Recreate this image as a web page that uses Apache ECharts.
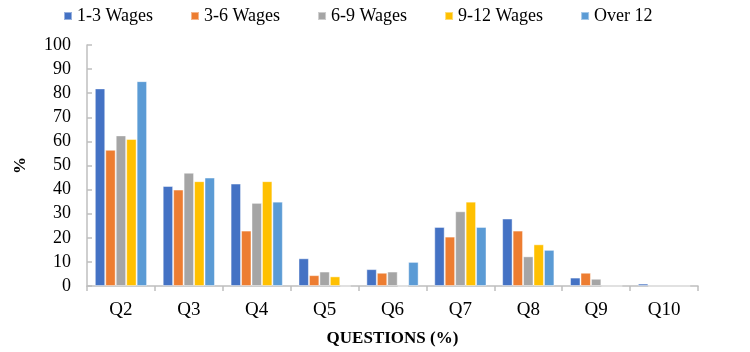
<!DOCTYPE html>
<html>
<head>
<meta charset="utf-8">
<script src="https://cdn.jsdelivr.net/npm/echarts@6/dist/echarts.min.js"></script>
<style>
  html, body { margin: 0; padding: 0; background: #fff; }
  #chart { width: 750px; height: 352px; }
</style>
</head>
<body>
<div id="chart"></div>
<script>
// categories and series
var questions = ["Q2", "Q3", "Q4", "Q5", "Q6", "Q7", "Q8", "Q9", "Q10"];
var wages1to3 = [82, 41.5, 42.5, 11.5, 7, 24.5, 28, 3.5, 1];
var wages3to6 = [56.5, 40, 23, 4.5, 5.5, 20.5, 23, 5.5, 0];
var wages6to9 = [62.5, 47, 34.5, 6, 6, 31, 12.3, 3, 0];
var wages9to12 = [61, 43.5, 43.5, 4, 0, 35, 17.3, 0, 0];
var over12 = [85, 45, 35, 0, 10, 24.5, 15, 0, 0];
var seriesNames = ["1-3 Wages", "3-6 Wages", "6-9 Wages", "9-12 Wages", "Over 12"];
var seriesColors = ["#4472C4", "#ED7D31", "#A5A5A5", "#FFC000", "#5B9BD5"];

var serif = "'Liberation Serif', 'Times New Roman', serif";
var chart = echarts.init(document.getElementById("chart"));

var allData = [wages1to3, wages3to6, wages6to9, wages9to12, over12];
var series = allData.map(function (d, i) {
  return {
    name: seriesNames[i],
    type: "bar",
    data: d,
    barGap: "0%",
    barCategoryGap: "23%",
    itemStyle: {
      color: seriesColors[i],
      borderColor: "rgba(255,255,255,0.45)",
      borderWidth: 1
    }
  };
});

var option = {
  animation: false,
  legend: {
    top: 2,
    left: 58,
    itemWidth: 8,
    itemHeight: 8,
    itemGap: 37,
    icon: "rect",
    textStyle: { fontFamily: serif, fontSize: 18, color: "#000" },
    data: seriesNames
  },
  grid: { left: 87, right: 52, top: 45, bottom: 64, containLabel: false },
  xAxis: {
    type: "category",
    data: questions,
    name: "QUESTIONS (%)",
    nameLocation: "middle",
    nameGap: 44,
    nameTextStyle: { fontFamily: serif, fontSize: 17, fontWeight: "bold", color: "#000" },
    axisLine: { lineStyle: { color: "#BFBFBF", width: 1.5 } },
    axisTick: { show: true, length: 5, lineStyle: { color: "#BFBFBF", width: 1.5 } },
    axisLabel: { fontFamily: serif, fontSize: 19, color: "#000", margin: 15 }
  },
  yAxis: {
    type: "value",
    min: 0,
    max: 100,
    interval: 10,
    name: "%",
    nameLocation: "middle",
    nameGap: 58,
    nameRotate: 90,
    nameTextStyle: { fontFamily: serif, fontSize: 17, fontWeight: "bold", color: "#000" },
    axisLine: { show: true, lineStyle: { color: "#BFBFBF", width: 1.5 } },
    axisTick: { show: true, inside: true, length: 5, lineStyle: { color: "#BFBFBF", width: 1.5 } },
    axisLabel: { fontFamily: serif, fontSize: 18, color: "#000", margin: 16 },
    splitLine: { show: false }
  },
  series: series
};
chart.setOption(option);
</script>
</body>
</html>
